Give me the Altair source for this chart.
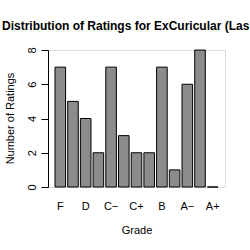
import altair as alt
import pandas as pd

grades = ["F", "D−", "D", "D+", "C−", "C", "C+", "B−", "B", "B+", "A−", "A", "A+"]
counts = [7, 5, 4, 2, 7, 3, 2, 2, 7, 1, 6, 8, 0]
shown_labels = ["F", "D", "C−", "C+", "B", "A−", "A+"]
y_ticks = [0, 2, 4, 6, 8]
title_text = "Distribution of Ratings for ExCuricular (Las"

df = pd.DataFrame({"Grade": grades, "Count": counts})

FONT = "Liberation Sans"

chart = alt.Chart(df).mark_bar(
    fill="#8c8c8c", stroke="black", strokeWidth=1
).encode(
    x=alt.X("Grade:N", sort=grades,
            scale=alt.Scale(paddingInner=0.167, paddingOuter=0.551),
            axis=alt.Axis(values=shown_labels, title="Grade", labelAngle=0,
                          domain=False, ticks=False, labelPadding=13,
                          labelFont=FONT, labelFontSize=11, labelColor="black",
                          titleFont=FONT, titleFontSize=11, titleFontWeight="normal",
                          titleColor="black", titleY=43, titleBaseline="middle")),
    y=alt.Y("Count:Q", scale=alt.Scale(domain=[0, 8], nice=False, zero=True),
            axis=alt.Axis(values=y_ticks, title="Number of Ratings", grid=False,
                          domainColor="black", tickColor="black", tickSize=7,
                          labelAngle=270, labelPadding=4, labelFont=FONT,
                          labelFontSize=11, labelColor="black",
                          titleFont=FONT, titleFontSize=11, titleFontWeight="normal",
                          titleColor="black", titleAngle=270, titleX=-38, titleY=68,
                          titleBaseline="middle", titleAlign="center")),
).properties(
    width=177, height=137,
    title=alt.TitleParams(title_text, anchor="start", frame="group", dx=-46,
                          font=FONT, fontSize=12, fontWeight="bold",
                          color="black", offset=14),
    autosize=alt.AutoSizeParams(type="none"),
    padding={"left": 48, "top": 50, "right": 25, "bottom": 63},
).configure_view(stroke=None).configure(background="white")

chart.save("out.html", embed_options={"renderer": "svg", "actions": False})
